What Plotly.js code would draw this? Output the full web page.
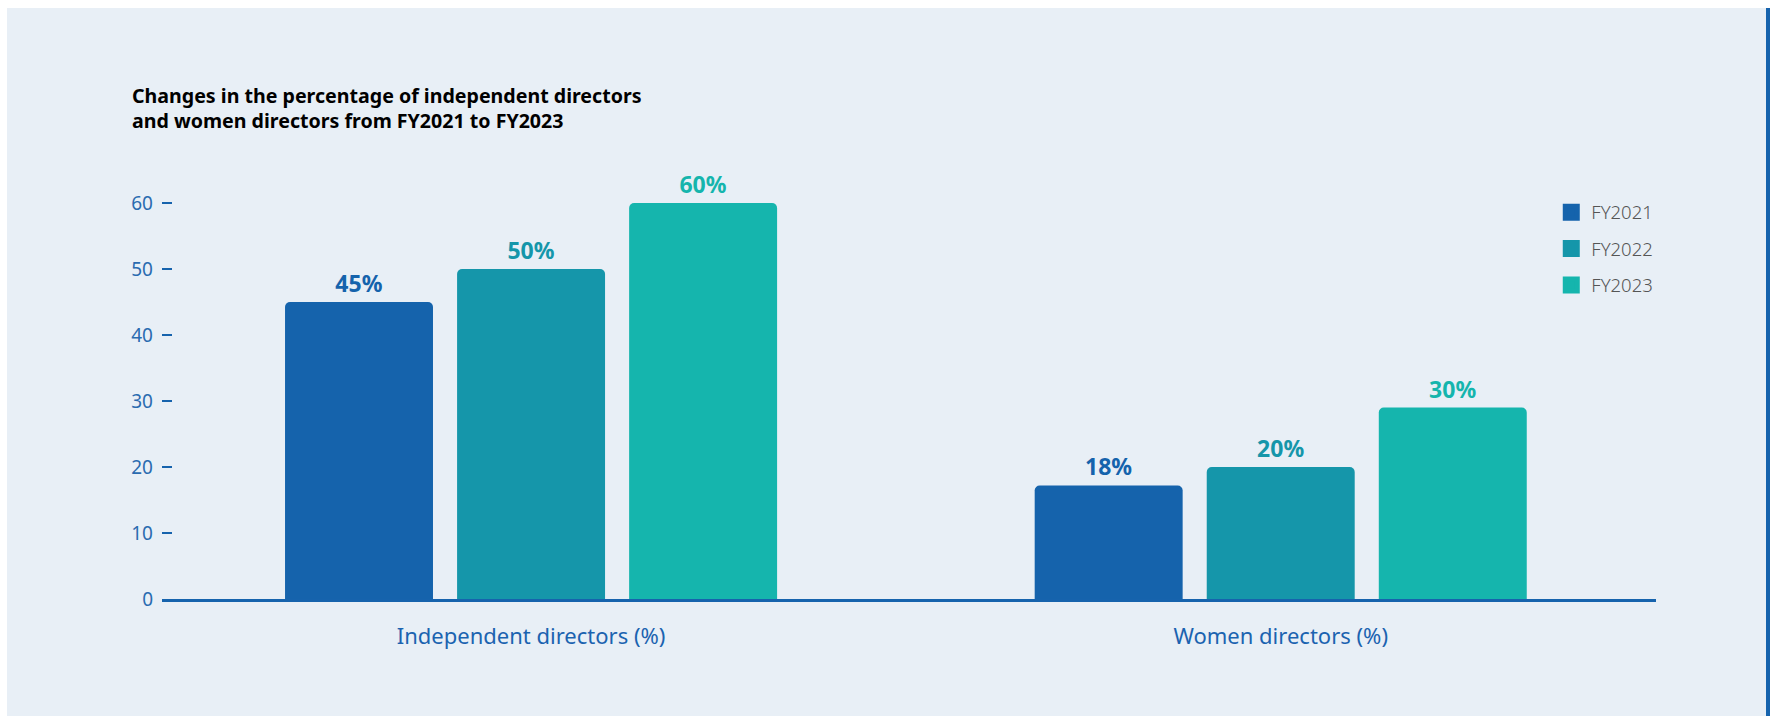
<!DOCTYPE html>
<html>
<head>
<meta charset="utf-8">
<script src="https://cdn.plot.ly/plotly-3.0.1.min.js"></script>
<style>
  html, body { margin: 0; padding: 0; background: #ffffff; width: 1770px; height: 716px; overflow: hidden; }
  #frame { position: absolute; left: 7px; top: 8px; width: 1759px; height: 708px; background: #e8eff6; }
  #bar { position: absolute; left: 1766px; top: 8px; width: 4px; height: 708px; background: #1663ad; }
  #chart { width: 1759px; height: 708px; }
</style>
</head>
<body>
<div id="frame"><div id="chart"></div></div>
<div id="bar"></div>
<script>
// ---- data ----
const categories = ["Independent directors (%)", "Women directors (%)"];
const seriesNames = ["FY2021", "FY2022", "FY2023"];
const fy2021 = [45, 17.2];
const fy2022 = [50, 20];
const fy2023 = [60, 29];
const labels2021 = ["45%", "18%"];
const labels2022 = ["50%", "20%"];
const labels2023 = ["60%", "30%"];
const yTickValues = [0, 10, 20, 30, 40, 50, 60];

const colors = ["#1563ac", "#1596aa", "#15b5ad"];
const seriesValues = [fy2021, fy2022, fy2023];
const seriesLabels = [labels2021, labels2022, labels2023];

// visible bars (legend handled by companion traces sharing the same slot)
const barTraces = seriesNames.map((name, i) => ({
  type: "bar",
  name: name,
  x: categories,
  y: seriesValues[i],
  offsetgroup: name,
  text: seriesLabels[i],
  textposition: "outside",
  cliponaxis: false,
  textfont: { family: "Noto Sans, Open Sans, sans-serif", size: 23, color: colors[i], weight: 700 },
  marker: { color: colors[i], cornerradius: 5, line: { width: 0 } },
  legendgroup: name,
  showlegend: false,
  hoverinfo: "skip"
}));

// legend-only companions: no values, larger swatch
const legendTraces = seriesNames.map((name, i) => ({
  type: "bar",
  name: name,
  x: categories,
  y: categories.map(() => null),
  offsetgroup: name,
  marker: { color: colors[i], line: { width: 5, color: colors[i] } },
  legendgroup: name,
  showlegend: true,
  hoverinfo: "skip"
}));

const layout = {
  width: 1759,
  height: 708,
  paper_bgcolor: "#e8eff6",
  plot_bgcolor: "rgba(0,0,0,0)",
  margin: { l: 155, r: 110, t: 162, b: 117, pad: 0 },
  barmode: "group",
  bargap: 0.3115,
  bargroupgap: 0.14,
  showlegend: true,
  title: {
    text: "<b>Changes in the percentage of independent directors<br>and women directors from FY2021 to FY2023</b>",
    font: { family: "Noto Sans, sans-serif", size: 19.6, color: "#000000" },
    x: 125 / 1759, xref: "container", xanchor: "left",
    y: 1 - 95 / 708, yref: "container", yanchor: "top"
  },
  xaxis: {
    type: "category",
    range: [-0.4923, 1.5006],
    showline: true, linecolor: "#1663ad", linewidth: 2.5,
    showgrid: false, zeroline: false,
    ticks: "outside", ticklen: 16, tickcolor: "rgba(0,0,0,0)",
    tickfont: { family: "Noto Sans, Open Sans, sans-serif", size: 22, color: "#1b63b0" },
    fixedrange: true
  },
  yaxis: {
    range: [0, 65],
    tickvals: yTickValues,
    ticktext: yTickValues.map(String),
    showline: false, showgrid: false, zeroline: false,
    ticks: "inside", ticklen: 10, tickwidth: 2.5, tickcolor: "#1663ad",
    ticklabelstandoff: 8,
    tickfont: { family: "Noto Sans, Open Sans, sans-serif", size: 19, color: "#2a6bb0" },
    fixedrange: true
  },
  legend: {
    x: 0.9299, xref: "paper", xanchor: "left",
    y: 0.9448, yref: "paper", yanchor: "top",
    traceorder: "grouped",
    tracegroupgap: 9.3,
    bgcolor: "rgba(0,0,0,0)",
    font: { family: "Noto Sans, Open Sans, sans-serif", size: 18.5, color: "#555555", weight: 300 }
  }
};

Plotly.newPlot("chart", barTraces.concat(legendTraces), layout, { displayModeBar: false, staticPlot: true });
</script>
</body>
</html>
